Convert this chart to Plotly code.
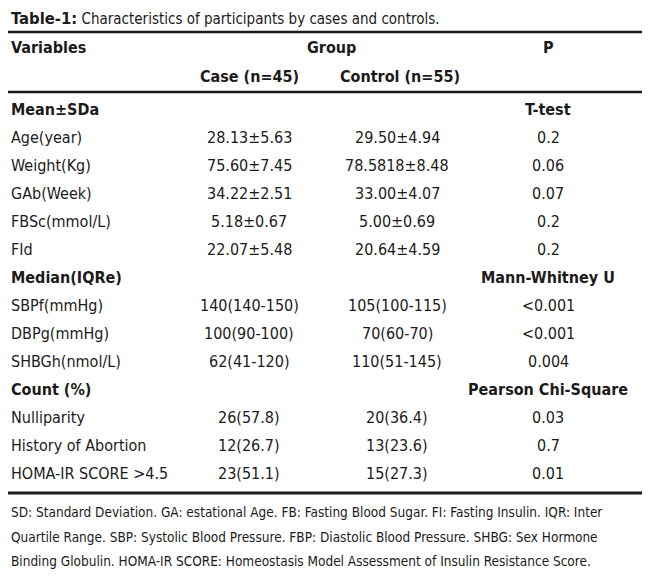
import plotly.graph_objects as go

# Table text
title_bold = "Table-1:"
title_text = "Characteristics of participants by cases and controls."
header_top = ["Variables", "Group", "P"]
header_groups = ["Case (n=45)", "Control (n=55)"]

sections = ["Mean±SDa", "Median(IQRe)", "Count (%)"]
tests = ["T-test", "Mann-Whitney U", "Pearson Chi-Square"]
section_sizes = [5, 3, 3]

variables = ["Age(year)", "Weight(Kg)", "GAb(Week)", "FBSc(mmol/L)", "FId",
             "SBPf(mmHg)", "DBPg(mmHg)", "SHBGh(nmol/L)",
             "Nulliparity", "History of Abortion", "HOMA-IR SCORE >4.5"]
case_values = ["28.13±5.63", "75.60±7.45", "34.22±2.51", "5.18±0.67", "22.07±5.48",
               "140(140-150)", "100(90-100)", "62(41-120)",
               "26(57.8)", "12(26.7)", "23(51.1)"]
control_values = ["29.50±4.94", "78.5818±8.48", "33.00±4.07", "5.00±0.69", "20.64±4.59",
                  "105(100-115)", "70(60-70)", "110(51-145)",
                  "20(36.4)", "13(23.6)", "15(27.3)"]
p_values = ["0.2", "0.06", "0.07", "0.2", "0.2",
            "<0.001", "<0.001", "0.004",
            "0.03", "0.7", "0.01"]

footnote_lines = [
    "SD: Standard Deviation. GA: estational Age. FB: Fasting Blood Sugar. FI: Fasting Insulin. IQR: Inter",
    "Quartile Range. SBP: Systolic Blood Pressure. FBP: Diastolic Blood Pressure. SHBG: Sex Hormone",
    "Binding Globulin. HOMA-IR SCORE: Homeostasis Model Assessment of Insulin Resistance Score.",
]

W, H = 650, 578
PAD = 8  # the page body puts the plot 8px in from the corner
FONT = "DejaVu Sans Condensed, Liberation Sans Narrow, sans-serif"
INK = "#1c1a1b"

# column positions (page pixels)
x_var, x_case, x_ctrl, x_p = 9, 249, 397, 548
row0, step = 109, 28

ann = []


def txt(x, y, s, size=16, anchor="center", bold=False):
    ann.append(dict(x=x, y=y, xref="x", yref="y", text="<b>%s</b>" % s if bold else s,
                    showarrow=False, xanchor=anchor, yanchor="middle",
                    font=dict(family=FONT, size=size, color=INK)))


# title + header
txt(9, 18, "<b><span style='font-size:16.5px'>%s</span></b> %s" % (title_bold, title_text),
    size=15, anchor="left")
txt(x_var, 47, header_top[0], anchor="left", bold=True)
txt(331, 47, header_top[1], bold=True)
txt(x_p, 47, header_top[2], bold=True)
txt(x_case, 76, header_groups[0], bold=True)
txt(400, 76, header_groups[1], bold=True)

# body rows
row = 0
k = 0
for sec, test, n in zip(sections, tests, section_sizes):
    y = row0 + step * row
    txt(x_var, y, sec, anchor="left", bold=True)
    txt(x_p, y, test, bold=True)
    row += 1
    for i in range(n):
        y = row0 + step * row
        txt(x_var, y, variables[k], anchor="left")
        txt(x_case, y, case_values[k])
        txt(x_ctrl, y, control_values[k])
        txt(x_p, y, p_values[k])
        row += 1
        k += 1

# footnote
for i, line in enumerate(footnote_lines):
    txt(9, 512 + 24.5 * i, line, size=13.5, anchor="left")

rules = [(32, 2.5), (92, 2.5), (493, 3)]
shapes = [dict(type="line", xref="x", yref="y", x0=PAD, x1=W, y0=y, y1=y,
               line=dict(color=INK, width=w)) for y, w in rules]

fig = go.Figure()
# keep the page from overflowing (body margin on every side)
fig.update_layout(width=W - PAD, height=H - 2 * PAD,
                  margin=dict(l=0, r=0, t=0, b=0, pad=0),
                  paper_bgcolor="#fff", plot_bgcolor="#fff",
                  xaxis=dict(range=[PAD, W], visible=False, fixedrange=True),
                  yaxis=dict(range=[H - PAD, PAD], visible=False, fixedrange=True),
                  annotations=ann, shapes=shapes, showlegend=False)

fig.write_html("out.html", config={"displayModeBar": False})
